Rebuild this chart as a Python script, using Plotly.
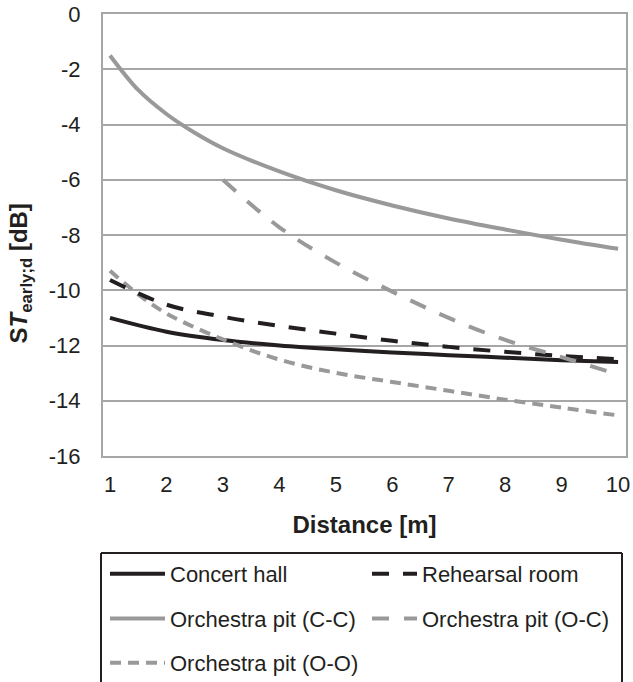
import plotly.graph_objects as go

# ---- data ----
concert_x = [1, 2, 3, 4, 5, 6, 7, 8, 9, 10]
concert_y = [-11.0, -11.5, -11.8, -12.0, -12.14, -12.25, -12.35, -12.44, -12.53, -12.6]

rehearsal_x = [1, 2, 3, 4, 5, 6, 7, 8, 9, 10]
rehearsal_y = [-9.63, -10.52, -10.96, -11.29, -11.57, -11.83, -12.05, -12.23, -12.38, -12.5]

pit_cc_x = [1, 1.5, 2, 2.5, 3, 4, 5, 6, 7, 8, 9, 10]
pit_cc_y = [-1.5, -2.75, -3.62, -4.3, -4.86, -5.7, -6.38, -6.93, -7.4, -7.8, -8.17, -8.5]

pit_oc_x = [3, 4, 5, 6, 7, 8, 9, 10]
pit_oc_y = [-6.0, -7.72, -9.0, -10.05, -11.0, -11.8, -12.42, -13.05]

pit_oo_x = [1, 1.5, 2, 3, 4, 5, 6, 7, 8, 9, 10]
pit_oo_y = [-9.29, -10.15, -10.84, -11.78, -12.51, -12.99, -13.32, -13.64, -13.96, -14.25, -14.53]

x_ticks = [1, 2, 3, 4, 5, 6, 7, 8, 9, 10]
y_ticks = [0, -2, -4, -6, -8, -10, -12, -14, -16]

names = ["Concert hall", "Rehearsal room", "Orchestra pit (C-C)",
         "Orchestra pit (O-C)", "Orchestra pit (O-O)"]

BLACK = "#231f20"
GRAY = "#999999"
GRID = "#a6a6a6"
FONT = "Liberation Sans, Arial, sans-serif"

fig = go.Figure()

series = [
    (concert_x, concert_y, names[0], BLACK, "solid", "legend"),
    (pit_cc_x, pit_cc_y, names[2], GRAY, "solid", "legend"),
    (pit_oo_x, pit_oo_y, names[4], GRAY, "11px,7px", "legend3"),
    (rehearsal_x, rehearsal_y, names[1], BLACK, "17px,14px", "legend2"),
    (pit_oc_x, pit_oc_y, names[3], GRAY, "17px,15px", "legend2"),
]
for xs, ys, nm, col, dash, lg in series:
    fig.add_trace(go.Scatter(
        x=xs, y=ys, name=nm, mode="lines",
        line=dict(color=col, width=4, dash=dash, shape="spline", smoothing=1),
        legend=lg, legendgroup=nm, hoverinfo="skip",
    ))

W, H = 633, 682
ml, mr, mt, mb = 103, 7, 14, 226
pw = W - ml - mr
ph = H - mt - mb


def px_to_paper_x(px):
    return (px - ml) / pw


def px_to_paper_y(py):
    return (H - mb - py) / ph


def legend_at(px, py, iw):
    return dict(
        x=px_to_paper_x(px), y=px_to_paper_y(py),
        xanchor="left", yanchor="top", orientation="v", tracegroupgap=13,
        itemwidth=iw, font=dict(size=22, family=FONT, color=BLACK),
        bgcolor="rgba(0,0,0,0)", borderwidth=0,
    )


# legend frame (open at the bottom, like the cropped reference)
bx0, bx1, by0, by1 = px_to_paper_x(101), px_to_paper_x(622), px_to_paper_y(553), px_to_paper_y(682)
frame = [
    dict(type="line", xref="paper", yref="paper", x0=bx0, x1=bx1, y0=by0, y1=by0),
    dict(type="line", xref="paper", yref="paper", x0=bx0, x1=bx0, y0=by0, y1=by1),
    dict(type="line", xref="paper", yref="paper", x0=bx1, x1=bx1, y0=by0, y1=by1),
]
for s in frame:
    s["line"] = dict(color=BLACK, width=2)
    s["layer"] = "above"

fig.update_layout(
    width=W, height=H, autosize=False,
    margin=dict(l=ml, r=mr, t=mt, b=mb, autoexpand=False),
    paper_bgcolor="white", plot_bgcolor="white",
    font=dict(family=FONT, color=BLACK, size=22),
    showlegend=True,
    legend=legend_at(105, 553, 55),
    legend3=legend_at(105, 642, 55),
    legend2=legend_at(367, 553, 45),
    xaxis=dict(
        range=[0.876, 10.14], tickmode="array", tickvals=x_ticks,
        ticktext=[str(v) for v in x_ticks], automargin=False,
        showgrid=False, zeroline=False,
        showline=True, linecolor=GRID, linewidth=2, mirror=True,
        ticks="", ticklabelstandoff=8, ticklabeloverflow="allow",
        tickfont=dict(size=22, family=FONT, color=BLACK),
        title=dict(text="<b>Distance [m]</b>", font=dict(size=24, family=FONT, color=BLACK),
                   standoff=20),
    ),
    yaxis=dict(
        range=[-16, 0], tickmode="array", tickvals=y_ticks,
        ticktext=[str(v) for v in y_ticks], automargin=False,
        showgrid=True, gridcolor=GRID, gridwidth=2, zeroline=False,
        showline=True, linecolor=GRID, linewidth=2, mirror=True,
        ticks="", ticklabelstandoff=16,
        tickfont=dict(size=22, family=FONT, color=BLACK),
    ),
    annotations=[dict(
        text="<b>S<i>T</i><sub>early;d</sub> [dB]</b>",
        xref="paper", yref="paper",
        x=px_to_paper_x(20), y=px_to_paper_y(273.5),
        xanchor="center", yanchor="middle", textangle=-90, showarrow=False,
        font=dict(size=24, family=FONT, color=BLACK),
    )],
    shapes=frame,
)

fig.write_html("out.html", config={"displayModeBar": False},
               post_script="document.body.style.margin='0px';")
